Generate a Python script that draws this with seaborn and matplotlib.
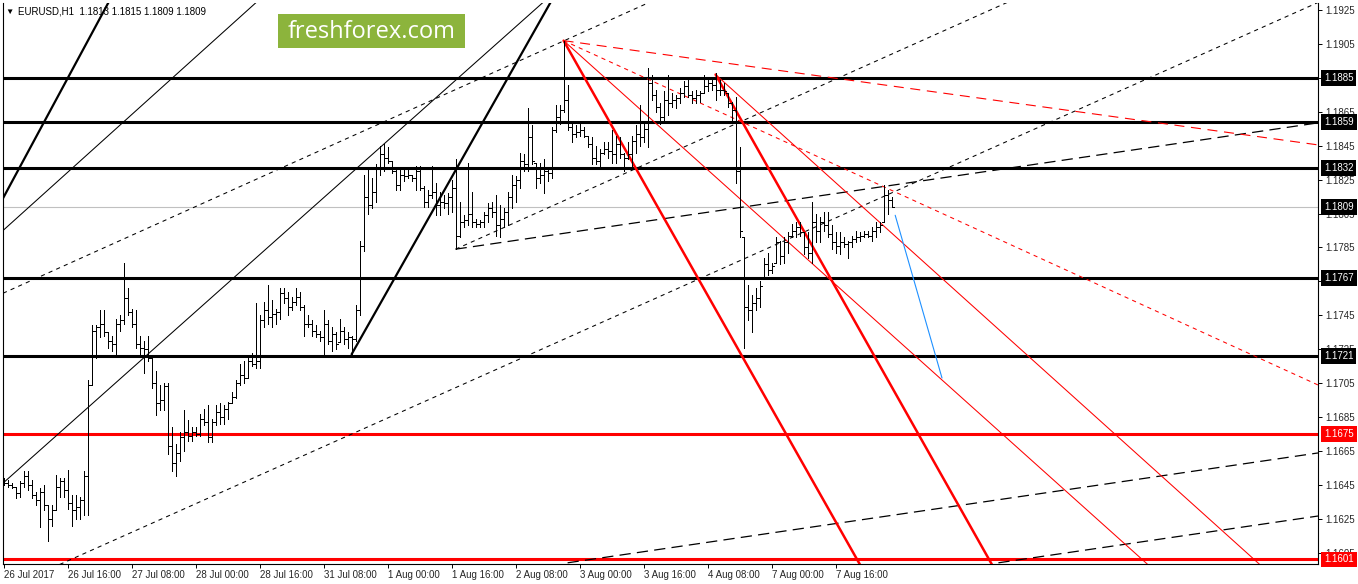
import numpy as np
import pandas as pd
import matplotlib
matplotlib.use("Agg")
import matplotlib.pyplot as plt
import matplotlib.transforms as mtransforms
from matplotlib.patches import Rectangle
import seaborn as sns

# EURUSD H1 bars, 26 Jul 2017 00:00 -> 8 Aug 2017 06:00 (one bar per hour, weekend skipped)
highs = [
    1.1649, 1.1648, 1.1646, 1.1644, 1.1647, 1.1653, 1.1653, 1.1648, 1.1641, 1.1643,
    1.1645, 1.1633, 1.1633, 1.1651, 1.1649, 1.1649, 1.1654, 1.1639, 1.1639, 1.1638,
    1.1653, 1.1707, 1.1739, 1.1739, 1.1748, 1.1748, 1.1735, 1.1733, 1.1743, 1.1745,
    1.1776, 1.1761, 1.1749, 1.1748, 1.1733, 1.1730, 1.1733, 1.1720, 1.1712, 1.1704,
    1.1705, 1.1705, 1.1679, 1.1669, 1.1676, 1.1689, 1.1683, 1.1679, 1.1679, 1.1687,
    1.1690, 1.1692, 1.1684, 1.1692, 1.1693, 1.1692, 1.1694, 1.1700, 1.1707, 1.1716,
    1.1718, 1.1721, 1.1723, 1.1752, 1.1745, 1.1753, 1.1763, 1.1754, 1.1749, 1.1761,
    1.1761, 1.1759, 1.1756, 1.1761, 1.1759, 1.1751, 1.1745, 1.1742, 1.1739, 1.1736,
    1.1748, 1.1742, 1.1738, 1.1735, 1.1743, 1.1738, 1.1735, 1.1733, 1.1751, 1.1789,
    1.1828, 1.1831, 1.1826, 1.1834, 1.1845, 1.1846, 1.1844, 1.1836, 1.1831, 1.1831,
    1.1831, 1.1831, 1.1828, 1.1833, 1.1833, 1.1821, 1.1819, 1.1833, 1.1823, 1.1818,
    1.1816, 1.1817, 1.1825, 1.1837, 1.1812, 1.1804, 1.1835, 1.1818, 1.1802, 1.1801,
    1.1806, 1.1811, 1.1812, 1.1816, 1.1810, 1.1808, 1.1818, 1.1828, 1.1827, 1.1841,
    1.1840, 1.1867, 1.1857, 1.1835, 1.1835, 1.1837, 1.1832, 1.1856, 1.1869, 1.1869,
    1.1907, 1.1881, 1.1858, 1.1857, 1.1858, 1.1856, 1.1851, 1.1850, 1.1845, 1.1843,
    1.1847, 1.1847, 1.1854, 1.1851, 1.1850, 1.1841, 1.1847, 1.1851, 1.1857, 1.1869,
    1.1858, 1.1891, 1.1887, 1.1878, 1.1870, 1.1877, 1.1887, 1.1876, 1.1875, 1.1879,
    1.1883, 1.1884, 1.1877, 1.1878, 1.1877, 1.1887, 1.1884, 1.1884, 1.1888, 1.1884,
    1.1882, 1.1876, 1.1871, 1.1874, 1.1844, 1.1791, 1.1763, 1.1757, 1.1761, 1.1765,
    1.1779, 1.1782, 1.1776, 1.1791, 1.1789, 1.1791, 1.1794, 1.1799, 1.1800, 1.1800,
    1.1794, 1.1794, 1.1812, 1.1805, 1.1803, 1.1806, 1.1806, 1.1798, 1.1794, 1.1794,
    1.1791, 1.1789, 1.1792, 1.1795, 1.1794, 1.1795, 1.1795, 1.1797, 1.1800, 1.1800,
    1.1822, 1.1819, 1.1815,
]
lows = [
    1.1645, 1.1644, 1.1643, 1.1637, 1.1638, 1.1644, 1.1642, 1.1637, 1.1633, 1.1620,
    1.1630, 1.1612, 1.1621, 1.1630, 1.1638, 1.1638, 1.1631, 1.1621, 1.1625, 1.1625,
    1.1627, 1.1627, 1.1704, 1.1720, 1.1732, 1.1733, 1.1726, 1.1724, 1.1721, 1.1736,
    1.1740, 1.1745, 1.1738, 1.1726, 1.1722, 1.1711, 1.1718, 1.1702, 1.1686, 1.1689,
    1.1689, 1.1663, 1.1653, 1.1650, 1.1659, 1.1665, 1.1671, 1.1671, 1.1674, 1.1674,
    1.1680, 1.1670, 1.1670, 1.1680, 1.1681, 1.1681, 1.1684, 1.1693, 1.1696, 1.1704,
    1.1705, 1.1708, 1.1715, 1.1714, 1.1714, 1.1738, 1.1740, 1.1738, 1.1740, 1.1743,
    1.1752, 1.1745, 1.1748, 1.1751, 1.1748, 1.1733, 1.1738, 1.1733, 1.1732, 1.1730,
    1.1722, 1.1728, 1.1724, 1.1725, 1.1729, 1.1728, 1.1726, 1.1722, 1.1730, 1.1745,
    1.1783, 1.1805, 1.1808, 1.1812, 1.1828, 1.1830, 1.1835, 1.1829, 1.1819, 1.1819,
    1.1824, 1.1826, 1.1824, 1.1819, 1.1819, 1.1809, 1.1809, 1.1814, 1.1804, 1.1804,
    1.1808, 1.1805, 1.1806, 1.1784, 1.1791, 1.1797, 1.1798, 1.1797, 1.1797, 1.1797,
    1.1797, 1.1800, 1.1803, 1.1792, 1.1791, 1.1797, 1.1798, 1.1808, 1.1812, 1.1820,
    1.1830, 1.1830, 1.1834, 1.1820, 1.1823, 1.1817, 1.1824, 1.1826, 1.1853, 1.1858,
    1.1865, 1.1854, 1.1847, 1.1850, 1.1851, 1.1850, 1.1844, 1.1834, 1.1834, 1.1832,
    1.1840, 1.1838, 1.1835, 1.1835, 1.1838, 1.1830, 1.1837, 1.1832, 1.1841, 1.1845,
    1.1847, 1.1844, 1.1872, 1.1865, 1.1858, 1.1860, 1.1863, 1.1868, 1.1867, 1.1870,
    1.1874, 1.1874, 1.1870, 1.1870, 1.1871, 1.1876, 1.1877, 1.1878, 1.1872, 1.1875,
    1.1875, 1.1868, 1.1860, 1.1823, 1.1791, 1.1726, 1.1742, 1.1735, 1.1748, 1.1750,
    1.1767, 1.1769, 1.1770, 1.1776, 1.1775, 1.1776, 1.1782, 1.1791, 1.1791, 1.1792,
    1.1781, 1.1779, 1.1776, 1.1788, 1.1788, 1.1795, 1.1791, 1.1784, 1.1782, 1.1781,
    1.1785, 1.1779, 1.1785, 1.1788, 1.1789, 1.1791, 1.1791, 1.1789, 1.1791, 1.1794,
    1.1800, 1.1805, 1.1809,
]
closes = [
    1.1646, 1.1645, 1.1644, 1.1640, 1.1646, 1.1650, 1.1645, 1.1639, 1.1636, 1.1641,
    1.1633, 1.1625, 1.1630, 1.1644, 1.1647, 1.1642, 1.1634, 1.1630, 1.1632, 1.1636,
    1.1650, 1.1704, 1.1736, 1.1738, 1.1740, 1.1735, 1.1730, 1.1728, 1.1740, 1.1742,
    1.1755, 1.1747, 1.1740, 1.1728, 1.1726, 1.1725, 1.1720, 1.1705, 1.1693, 1.1695,
    1.1703, 1.1668, 1.1658, 1.1664, 1.1673, 1.1676, 1.1674, 1.1676, 1.1675, 1.1684,
    1.1682, 1.1673, 1.1682, 1.1688, 1.1685, 1.1690, 1.1693, 1.1697, 1.1705, 1.1710,
    1.1708, 1.1718, 1.1716, 1.1718, 1.1742, 1.1748, 1.1744, 1.1746, 1.1747, 1.1758,
    1.1755, 1.1750, 1.1753, 1.1756, 1.1750, 1.1740, 1.1740, 1.1736, 1.1734, 1.1732,
    1.1740, 1.1730, 1.1734, 1.1728, 1.1736, 1.1731, 1.1732, 1.1731, 1.1748, 1.1786,
    1.1815, 1.1810, 1.1818, 1.1832, 1.1840, 1.1838, 1.1836, 1.1830, 1.1822, 1.1828,
    1.1827, 1.1828, 1.1826, 1.1830, 1.1820, 1.1812, 1.1816, 1.1818, 1.1810, 1.1812,
    1.1811, 1.1815, 1.1820, 1.1792, 1.1800, 1.1801, 1.1805, 1.1800, 1.1799, 1.1800,
    1.1804, 1.1808, 1.1806, 1.1798, 1.1802, 1.1806, 1.1815, 1.1822, 1.1825, 1.1836,
    1.1834, 1.1850, 1.1836, 1.1826, 1.1828, 1.1830, 1.1829, 1.1854, 1.1862, 1.1866,
    1.1872, 1.1856, 1.1852, 1.1853, 1.1854, 1.1851, 1.1846, 1.1838, 1.1836, 1.1841,
    1.1843, 1.1842, 1.1840, 1.1846, 1.1840, 1.1838, 1.1840, 1.1848, 1.1852, 1.1850,
    1.1855, 1.1882, 1.1875, 1.1868, 1.1862, 1.1872, 1.1870, 1.1872, 1.1873, 1.1876,
    1.1880, 1.1875, 1.1873, 1.1875, 1.1876, 1.1880, 1.1882, 1.1881, 1.1878, 1.1878,
    1.1877, 1.1870, 1.1866, 1.1830, 1.1795, 1.1750, 1.1748, 1.1752, 1.1755, 1.1762,
    1.1775, 1.1772, 1.1774, 1.1788, 1.1780, 1.1788, 1.1792, 1.1795, 1.1797, 1.1794,
    1.1785, 1.1782, 1.1800, 1.1795, 1.1800, 1.1798, 1.1793, 1.1788, 1.1786, 1.1788,
    1.1787, 1.1788, 1.1790, 1.1791, 1.1792, 1.1793, 1.1792, 1.1795, 1.1797, 1.1798,
    1.1816, 1.1813, 1.1809,
]
first_open = 1.1647

# x axis labels every 16 bars
time_labels = ["26 Jul 2017", "26 Jul 16:00", "27 Jul 08:00", "28 Jul 00:00",
               "28 Jul 16:00", "31 Jul 08:00", "1 Aug 00:00", "1 Aug 16:00",
               "2 Aug 08:00", "3 Aug 00:00", "3 Aug 16:00", "4 Aug 08:00",
               "7 Aug 00:00", "7 Aug 16:00"]
label_bars = [0, 16, 32, 48, 64, 80, 96, 112, 128, 144, 160, 176, 192, 208]

price_ticks = [1.1605, 1.1625, 1.1645, 1.1665, 1.1685, 1.1705, 1.1725, 1.1745,
               1.1765, 1.1785, 1.1805, 1.1825, 1.1845, 1.1865, 1.1885, 1.1905, 1.1925]

# horizontal levels
black_levels = [1.1885, 1.1859, 1.1832, 1.1767, 1.1721]
red_levels = [1.1675, 1.1601]
last_price = 1.1809

# trend lines: (bar, price) anchors, drawn as rays to the right
thick_black = [[(-0.15, 1.1814), (26.1, 1.1929)],
               [(87.0, 1.1722), (136.6, 1.1929)]]
thin_black = [[(-0.15, 1.1646), (134.6, 1.1929)],
              [(-0.15, 1.1795), (62.9, 1.1929)]]
dotted_black = [[(-0.15, 1.1758), (160.9, 1.1929)],
                [(14.0, 1.1598), (328.6, 1.19295)],
                [(113.0, 1.1784), (250.4, 1.1929)]]
dashed_black = [[(113.0, 1.1784), (328.6, 1.18585)],
                [(141.0, 1.1599), (328.6, 1.16638)],
                [(248.7, 1.1599), (328.6, 1.16266)]]
thick_red = [[(140.0, 1.1907), (213.6, 1.1600)],
             [(178.0, 1.1887), (246.6, 1.1600)]]
thin_red = [[(140.0, 1.1907), (285.1, 1.1600)],
            [(178.0, 1.1887), (313.1, 1.1600)]]
dashed_red = [[(140.0, 1.1907), (328.6, 1.18455)]]
dotted_red = [[(140.0, 1.1907), (328.6, 1.17039)]]
blue_line = [(222.9, 1.1804), (234.6, 1.1708)]

# --- figure ---
sns.set_theme(style="white")
plt.rcParams['font.family'] = ['Liberation Sans', 'DejaVu Sans']

W, H = 1358, 584
fig = plt.figure(figsize=(W / 100, H / 100), dpi=100)
ax = fig.add_axes([3 / W, 20 / H, 1315 / W, 561 / H])
x_min, x_max = -0.15, 328.6
y_min, y_max = 1.15983, 1.19292

n = len(highs)
idx = np.arange(n)
bars = pd.DataFrame({"high": highs, "low": lows, "close": closes})
bars["open"] = bars["close"].shift(1).fillna(first_open)
bars["open"] = bars["open"].clip(bars["low"], bars["high"])

# levels
for lvl in black_levels:
    ax.axhline(lvl, color="black", lw=2.2, zorder=2)
for lvl in red_levels:
    ax.axhline(lvl, color="#ff0000", lw=2.2, zorder=2)
ax.axhline(last_price, color="#c0c0c0", lw=0.8, zorder=1)


def ray(anchors, **kw):
    (i0, p0), (i1, p1) = anchors
    slope = (p1 - p0) / (i1 - i0)
    xs = [i0, x_max]
    ys = [p0, p0 + slope * (x_max - i0)]
    sns.lineplot(x=xs, y=ys, ax=ax, sort=False, **kw)


for a in thick_black:
    ray(a, color="black", linewidth=1.6, zorder=3)
for a in thin_black:
    ray(a, color="black", linewidth=0.75, zorder=3)
for a in dotted_black:
    ray(a, color="black", linewidth=0.75, linestyle=(0, (4, 4)), zorder=3)
for a in dashed_black:
    ray(a, color="black", linewidth=0.9, linestyle=(0, (9, 5)), zorder=3)
for a in thick_red:
    ray(a, color="#ff0000", linewidth=1.8, zorder=3)
for a in thin_red:
    ray(a, color="#ff0000", linewidth=0.75, zorder=3)
for a in dashed_red:
    ray(a, color="#ff0000", linewidth=0.8, linestyle=(0, (9, 6)), zorder=3)
for a in dotted_red:
    ray(a, color="#ff0000", linewidth=0.75, linestyle=(0, (4, 4)), zorder=3)
sns.lineplot(x=[blue_line[0][0], blue_line[1][0]], y=[blue_line[0][1], blue_line[1][1]],
             ax=ax, sort=False, color="#1e90ff", linewidth=0.8, zorder=3)

# OHLC bars, 1 px wide
ax.vlines(idx, bars["low"], bars["high"], color="black", lw=0.6, antialiased=False, zorder=4)
ax.hlines(bars["open"], idx - 0.5, idx, color="black", lw=0.6, antialiased=False, zorder=4)
ax.hlines(bars["close"], idx, idx + 0.5, color="black", lw=0.6, antialiased=False, zorder=4)

ax.set_xlim(x_min, x_max)
ax.set_ylim(y_min, y_max)
ax.set_xlabel("")
ax.set_ylabel("")

# axes styling (MT4 look)
for side in ["left", "right", "bottom"]:
    ax.spines[side].set_color("black")
    ax.spines[side].set_linewidth(0.8)
ax.spines["top"].set_visible(False)

ax.set_xticks(label_bars)
ax.set_xticklabels(time_labels, ha="left", fontsize=7)
ax.tick_params(axis="x", direction="out", length=3, width=0.7, color="black", pad=1.5,
               bottom=True)
ax.yaxis.tick_right()
ax.set_yticks(price_ticks)
ax.set_yticklabels([f"{v:.4f}" for v in price_ticks], fontsize=7)
ax.tick_params(axis="y", direction="out", length=3, width=0.7, color="black", pad=2.5,
               right=True, left=False)

# boxed price labels on the right scale
trans = mtransforms.blended_transform_factory(ax.transAxes, ax.transData)
box_levels = black_levels + [last_price] + red_levels
box_colors = ["black"] * len(black_levels) + ["black"] + ["#ff0000"] * len(red_levels)
for lvl, col in zip(box_levels, box_colors):
    ax.text(1 + 6 / 1315, lvl, f"{lvl:.4f}", transform=trans, ha="left", va="center",
            fontsize=7, color="white", clip_on=False, zorder=10,
            bbox=dict(boxstyle="square,pad=0.3", fc=col, ec="none"))

# header
fig.text(5 / W, 1 - 12 / H, "\u25bc", fontsize=6, va="center", ha="left", color="black")
fig.text(18 / W, 1 - 12 / H, "EURUSD,H1  1.1813 1.1815 1.1809 1.1809", fontsize=7,
         va="center", ha="left", color="black")

# logo
fig.patches.append(Rectangle((278 / W, 1 - 48 / H), 187 / W, 34 / H,
                             transform=fig.transFigure, fc="#8cb43c", ec="none", zorder=5))
fig.text(371.5 / W, 1 - 32 / H, "freshforex.com", fontsize=17, color="white",
         ha="center", va="center", family=["Open Sans", "DejaVu Sans"], zorder=6)

fig.savefig("out.png", dpi=100, facecolor="white")
